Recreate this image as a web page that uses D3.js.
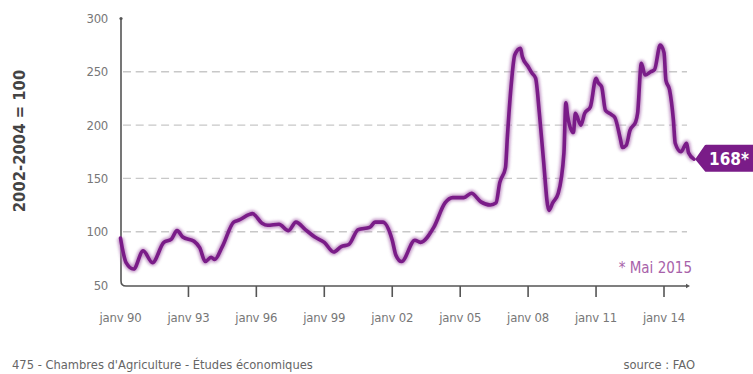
<!DOCTYPE html>
<html>
<head>
<meta charset="utf-8">
<script src="https://cdn.jsdelivr.net/npm/d3@7"></script>
<style>
  html, body { margin: 0; padding: 0; background: #fff; }
  svg { display: block; }
  text { font-family: "DejaVu Sans Condensed", "Liberation Sans Narrow", "Roboto", sans-serif; }
</style>
</head>
<body>
<svg id="chart" width="753" height="374"></svg>
<script>
// FAO food price index (2002-2004 = 100), monthly readings
const months = [
  "1990-01","1990-02","1990-04","1990-08","1991-01","1991-06","1991-12","1992-04","1992-07","1992-10",
  "1993-04","1993-07","1993-10","1994-01","1994-03","1994-07","1995-01","1995-04","1995-09","1995-11",
  "1996-04","1996-07","1997-01","1997-06","1997-10","1998-03","1998-08","1999-01","1999-06","1999-10",
  "2000-02","2000-07","2001-01","2001-04","2001-08","2002-01","2002-03","2002-06","2003-01","2003-04",
  "2003-11","2004-05","2004-09","2005-03","2005-07","2005-12","2006-05","2006-08","2006-10","2007-01",
  "2007-02","2007-04","2007-06","2007-09","2007-10","2008-01","2008-03","2008-05","2008-07","2008-09",
  "2008-12","2009-02","2009-05","2009-08","2009-09","2009-10","2010-01","2010-02","2010-05","2010-07",
  "2010-10","2011-01","2011-02","2011-04","2011-06","2011-09","2011-11","2012-02","2012-03","2012-05",
  "2012-07","2012-10","2012-11","2013-01","2013-03","2013-06","2013-08","2013-11","2014-01","2014-02",
  "2014-04","2014-06","2014-07","2014-10","2015-01","2015-02","2015-05"
];
const index = [
  94, 84, 71, 65, 82, 71, 90, 93, 101, 95,
  91, 85, 72, 76, 74, 86, 109, 111, 116, 117,
  108, 106, 107, 101, 109, 102, 95, 90, 81, 86,
  88, 102, 104, 109, 109, 92, 78, 72, 92, 90,
  104, 127, 132, 132, 136, 128, 125, 127, 146, 160,
  189, 236, 266, 272, 264, 255, 249, 244, 211, 170,
  120, 127, 136, 174, 221, 208, 193, 211, 200, 211,
  217, 244, 240, 236, 214, 210, 207, 186, 179, 181,
  195, 203, 211, 258, 247, 250, 252, 275, 268, 242,
  233, 205, 183, 175, 183, 174, 168
];
const yTicks = [50, 100, 150, 200, 250, 300];
const gridValues = [100, 150, 200, 250];
const xTickYears = [1990, 1993, 1996, 1999, 2002, 2005, 2008, 2011, 2014];
const lastLabel = "168*";
const noteText = "* Mai 2015";
const yTitle = "2002-2004 = 100";
const footerLeft = "475 - Chambres d'Agriculture - Études économiques";
const footerRight = "source : FAO";

const parse = d3.utcParse("%Y-%m");
const data = months.map((m, i) => ({ date: parse(m), value: index[i] }));

const svg = d3.select("#chart");
const purple = "#7a1c88";

const x = d3.scaleUtc()
  .domain([new Date(Date.UTC(1990, 0, 1)), new Date(Date.UTC(2014, 0, 1))])
  .range([120.5, 664]);
const y = d3.scaleLinear().domain([50, 300]).range([285, 18.5]);

const left = 121, bottom = 286, axisRight = 690;

// soft halo under the line
const defs = svg.append("defs");
defs.append("filter").attr("id", "halo").attr("x", "-5%").attr("y", "-5%").attr("width", "110%").attr("height", "110%")
  .append("feGaussianBlur").attr("stdDeviation", 1.4);

// dashed gridlines
svg.append("g").selectAll("line").data(gridValues).join("line")
  .attr("x1", left + 2).attr("x2", 687)
  .attr("y1", d => y(d)).attr("y2", d => y(d))
  .attr("stroke", "#c8c8c8").attr("stroke-width", 1.4)
  .attr("stroke-dasharray", "8,4.7");

// y tick labels
svg.append("g").selectAll("text").data(yTicks).join("text")
  .attr("x", 108).attr("y", d => y(d)).attr("dy", "0.35em")
  .attr("text-anchor", "end").attr("font-size", 13).attr("fill", "#777")
  .attr("letter-spacing", "-0.3")
  .text(d => d);

// axes: vertical and horizontal with a rounded corner
svg.append("path")
  .attr("d", `M${left},${y(300)} L${left},${bottom - 5} Q${left},${bottom} ${left + 5},${bottom} L${axisRight - 3},${bottom}`)
  .attr("fill", "none").attr("stroke", "#555").attr("stroke-width", 1.6);
svg.append("circle").attr("cx", left).attr("cy", y(300)).attr("r", 1.6).attr("fill", "#555");
svg.append("path")
  .attr("d", `M${axisRight - 4},${bottom - 2.2} L${axisRight},${bottom} L${axisRight - 4},${bottom + 2.2} Z`)
  .attr("fill", "#555");

// x ticks and labels
const xTicks = xTickYears.map(yr => new Date(Date.UTC(yr, 0, 1)));
svg.append("g").selectAll("line").data(xTicks.slice(1)).join("line")
  .attr("x1", d => x(d)).attr("x2", d => x(d))
  .attr("y1", bottom).attr("y2", bottom + 11)
  .attr("stroke", "#555").attr("stroke-width", 1.6);
svg.append("g").selectAll("text").data(xTicks).join("text")
  .attr("x", d => x(d)).attr("y", 322)
  .attr("text-anchor", "middle").attr("font-size", 13).attr("fill", "#777")
  .attr("letter-spacing", "-0.2")
  .text(d => "janv " + d3.utcFormat("%y")(d));

// index line
const line = d3.line().x(d => x(d.date)).y(d => y(d.value)).curve(d3.curveMonotoneX);
svg.append("path").datum(data).attr("d", line)
  .attr("fill", "none").attr("stroke", "#b27ab8").attr("stroke-width", 6.5)
  .attr("stroke-linejoin", "round").attr("filter", "url(#halo)").attr("opacity", 0.8);
svg.append("path").datum(data).attr("d", line)
  .attr("fill", "none").attr("stroke", purple).attr("stroke-width", 3.6)
  .attr("stroke-linejoin", "round").attr("stroke-linecap", "round");

// value tag at the last point
const last = data[data.length - 1];
const lx = x(last.date), ly = y(last.value);
const tagL = lx + 3, tagH = 24, tagTop = ly - 13;
svg.append("path")
  .attr("d", `M${tagL},${ly} L${tagL + 9},${tagTop} L${760},${tagTop} L${760},${tagTop + tagH} L${tagL + 9},${tagTop + tagH} Z`)
  .attr("fill", purple).attr("stroke", purple).attr("stroke-width", 3).attr("stroke-linejoin", "round");
svg.append("text")
  .attr("x", tagL + 12).attr("y", ly).attr("dy", "0.36em")
  .attr("font-size", 17).attr("font-weight", "bold").attr("fill", "#fff")
  .text(lastLabel);

// note
svg.append("text")
  .attr("x", 692).attr("y", 273)
  .attr("text-anchor", "end").attr("font-size", 15).attr("fill", "#a862aa")
  .text(noteText);

// y title
svg.append("text")
  .attr("transform", "translate(25,141) rotate(-90)")
  .attr("text-anchor", "middle").attr("font-size", 16.5).attr("font-weight", "bold").attr("fill", "#444")
  .text(yTitle);

// footer
svg.append("text").attr("x", 12).attr("y", 369)
  .attr("font-size", 12.8).attr("fill", "#666").text(footerLeft);
svg.append("text").attr("x", 695).attr("y", 369).attr("text-anchor", "end")
  .attr("font-size", 12.8).attr("fill", "#666").text(footerRight);
</script>
</body>
</html>
